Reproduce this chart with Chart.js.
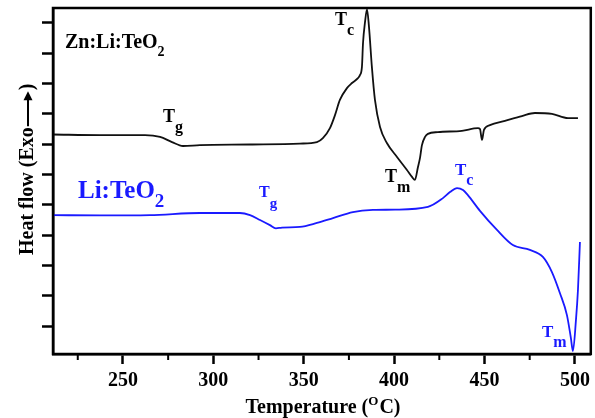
<!DOCTYPE html>
<html>
<head>
<meta charset="utf-8">
<script src="https://cdn.jsdelivr.net/npm/chart.js@4.4.0/dist/chart.umd.min.js"></script>
<style>
  body { margin: 0; background: #fff; }
  #wrap { width: 595px; height: 418px; position: relative; }
</style>
</head>
<body>
<div id="wrap"><canvas id="dscChart"></canvas></div>
<script>
// Zn:Li:TeO2 trace (black)
const znTemp = [211.3, 237.3, 262.2, 270.5, 277.1, 283.2, 292.6, 320.3, 347.9, 357.3, 360.6, 364.5, 367.3, 370.0, 373.9,
    376.7, 380.0, 381.1, 382.2, 382.8, 383.9, 385.0, 386.1, 387.7, 389.4, 392.2, 396.0, 401.6, 407.1, 409.9, 411.5,
    413.2, 414.3, 415.4, 417.1, 418.7, 424.2, 437.5, 446.4, 447.5, 448.6, 449.7, 453.0, 461.3, 470.7, 477.9, 487.3,
    496.2, 501.7];
const znHeat = [6.32, 6.30, 6.30, 6.24, 6.07, 5.94, 5.97, 5.99, 6.02, 6.07, 6.20, 6.53, 6.96, 7.46, 7.85,
    8.02, 8.18, 8.28, 8.55, 9.34, 10.03, 10.45, 9.87, 8.55, 7.46, 6.57, 6.04, 5.58, 5.15, 4.92, 4.82,
    5.25, 5.54, 5.97, 6.24, 6.34, 6.40, 6.44, 6.53, 6.50, 6.14, 6.47, 6.63, 6.77, 6.93, 7.03, 7.00,
    6.86, 6.86];

// Li:TeO2 trace (blue)
const liTemp = [211.3, 237.3, 264.9, 292.6, 314.7, 320.3, 325.8, 331.3, 334.6, 338.0, 347.9, 357.3, 366.2, 377.2,
    388.3, 400.5, 418.7, 427.0, 430.9, 434.8, 438.1, 440.8, 447.5, 456.9, 465.7, 475.1, 482.3, 487.3, 491.7,
    495.6, 497.8, 498.9, 500.6, 501.7, 502.8];
const liHeat = [3.66, 3.65, 3.66, 3.73, 3.73, 3.66, 3.50, 3.33, 3.22, 3.25, 3.27, 3.40, 3.56, 3.76,
    3.83, 3.84, 3.93, 4.22, 4.42, 4.55, 4.49, 4.32, 3.80, 3.17, 2.67, 2.51, 2.28, 1.78, 1.09,
    0.36, -0.40, -0.83, 0.20, 1.19, 2.77];

const xTicks = [250, 300, 350, 400, 450, 500];
const xMinorTicks = [225, 275, 325, 375, 425, 475];
const yTicks = [0, 1, 2, 3, 4, 5, 6, 7, 8, 9, 10];

const SERIF = "'Liberation Serif', 'Times New Roman', serif";
const BLUE = '#1a1aff';

function toPoints(xs, ys) {
    return xs.map((x, i) => ({ x: x, y: ys[i] }));
}

// text with a subscript or superscript part
function drawScript(ctx, base, small, x, y, size, smallSize, dy, color) {
    ctx.fillStyle = color;
    ctx.font = 'bold ' + size + 'px ' + SERIF;
    ctx.fillText(base, x, y);
    const w = ctx.measureText(base).width;
    ctx.font = 'bold ' + smallSize + 'px ' + SERIF;
    ctx.fillText(small, x + w, y + dy);
}

const decor = {
    id: 'decor',
    afterDraw(chart) {
        const ctx = chart.ctx;
        const a = chart.chartArea;
        const xs = chart.scales.x;
        ctx.save();

        // frame
        ctx.strokeStyle = '#000';
        ctx.lineWidth = 2.5;
        ctx.strokeRect(a.left, a.top, a.right - a.left, a.bottom - a.top);

        // minor x ticks
        ctx.lineWidth = 2;
        xMinorTicks.forEach(v => {
            const px = xs.getPixelForValue(v);
            ctx.beginPath();
            ctx.moveTo(px, a.bottom);
            ctx.lineTo(px, a.bottom + 6);
            ctx.stroke();
        });

        ctx.textBaseline = 'alphabetic';
        ctx.textAlign = 'left';

        // curve labels
        drawScript(ctx, 'Zn:Li:TeO', '2', 65, 48, 20, 14, 8, '#000');
        drawScript(ctx, 'T', 'g', 163, 122, 18, 16, 10, '#000');
        drawScript(ctx, 'T', 'c', 335, 25, 18, 16, 10, '#000');
        drawScript(ctx, 'T', 'm', 385, 182, 18, 16, 10, '#000');

        drawScript(ctx, 'Li:TeO', '2', 78, 198, 25, 19, 9, BLUE);
        drawScript(ctx, 'T', 'g', 259, 197, 16, 15, 11, BLUE);
        drawScript(ctx, 'T', 'c', 455, 175, 17, 16, 10, BLUE);
        drawScript(ctx, 'T', 'm', 542, 337, 17, 16, 10, BLUE);

        // x title with superscript O
        ctx.fillStyle = '#000';
        ctx.font = 'bold 20px ' + SERIF;
        const p1 = 'Temperature (';
        const p3 = 'C)';
        const w1 = ctx.measureText(p1).width;
        const w3 = ctx.measureText(p3).width;
        ctx.font = 'bold 13px ' + SERIF;
        const w2 = ctx.measureText('O').width + 1;
        let tx = 323 - (w1 + w2 + w3) / 2;
        ctx.font = 'bold 20px ' + SERIF;
        ctx.fillText(p1, tx, 413);
        ctx.font = 'bold 13px ' + SERIF;
        ctx.fillText('O', tx + w1, 405);
        ctx.font = 'bold 20px ' + SERIF;
        ctx.fillText(p3, tx + w1 + w2, 413);

        // y title, rotated, with long arrow
        ctx.translate(33, 255);
        ctx.rotate(-Math.PI / 2);
        ctx.font = 'bold 20px ' + SERIF;
        const t1 = 'Heat flow (Exo';
        const wt = ctx.measureText(t1).width;
        ctx.fillText(t1, 0, 0);
        const ax0 = wt + 1, ax1 = wt + 36;
        ctx.lineWidth = 2;
        ctx.beginPath();
        ctx.moveTo(ax0, -5);
        ctx.lineTo(ax1 - 4, -5);
        ctx.stroke();
        ctx.beginPath();
        ctx.moveTo(ax1, -5);
        ctx.lineTo(ax1 - 9, -9.5);
        ctx.lineTo(ax1 - 9, -0.5);
        ctx.closePath();
        ctx.fill();
        ctx.fillText(')', ax1 + 1, 0);

        ctx.restore();
    }
};

const ctx = document.getElementById('dscChart').getContext('2d');
const dscChart = new Chart(ctx, {
    type: 'line',
    data: {
        datasets: [{
            label: 'Zn:Li:TeO2',
            data: toPoints(znTemp, znHeat),
            borderColor: '#111',
            borderWidth: 1.8,
            pointRadius: 0,
            cubicInterpolationMode: 'monotone'
        }, {
            label: 'Li:TeO2',
            data: toPoints(liTemp, liHeat),
            borderColor: BLUE,
            borderWidth: 1.8,
            pointRadius: 0,
            cubicInterpolationMode: 'monotone'
        }]
    },
    options: {
        responsive: true,
        maintainAspectRatio: false,
        animation: false,
        layout: { padding: { top: 8, right: 4, left: 0, bottom: 0 } },
        plugins: { legend: { display: false }, tooltip: { enabled: false } },
        scales: {
            x: {
                type: 'linear',
                min: 211.3,
                max: 508.8,
                afterBuildTicks: scale => { scale.ticks = xTicks.map(v => ({ value: v })); },
                afterFit: scale => { scale.height = 64; },
                ticks: {
                    color: '#000',
                    padding: 5,
                    maxRotation: 0,
                    font: { family: SERIF, size: 20, weight: 'bold' }
                },
                grid: { drawOnChartArea: false, tickLength: 10, tickWidth: 2.5, tickColor: '#000' },
                border: { color: '#000', width: 2.5 }
            },
            y: {
                type: 'linear',
                min: -0.924,
                max: 10.495,
                afterBuildTicks: scale => { scale.ticks = yTicks.map(v => ({ value: v })); },
                afterFit: scale => { scale.width = 53; },
                ticks: { display: false },
                grid: { drawOnChartArea: false, tickLength: 11, tickWidth: 2.5, tickColor: '#000' },
                border: { color: '#000', width: 2.5 }
            }
        }
    },
    plugins: [decor]
});
</script>
</body>
</html>
